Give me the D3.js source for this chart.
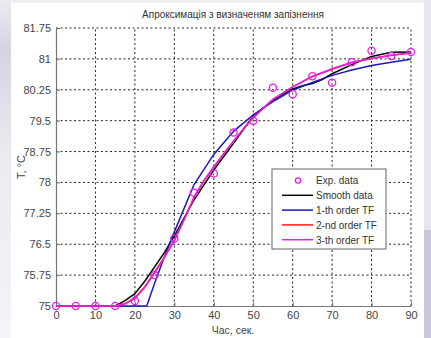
<!DOCTYPE html>
<head>
    <meta charset="utf-8">
    <style>
        body { margin: 0; }
        svg { display: block; font-family: "Liberation Sans", Arial, sans-serif; }
    </style>
</head>
<body>
    <div id="graph"></div>
    <script src="https://d3js.org/d3.v7.min.js"></script>
    <script>
        const WIDTH = 431;
        const HEIGHT = 338;

        // Exp. data (circles)
        const expTime = [0, 5, 10, 15, 20, 25, 30, 35, 40, 45, 50, 55, 60, 65, 70, 75, 80, 85, 90];
        const expTemp = [75, 75, 75, 75, 75.12, 75.75, 76.64, 77.75, 78.22, 79.21, 79.5, 80.3, 80.14, 80.58, 80.42, 80.92, 81.2, 81.07, 81.17];

        // Smooth data
        const smoothTime = [0, 15, 17.5, 20, 22.5, 25, 27.5, 30, 35, 40, 45, 50, 55, 60, 62.5, 65, 67.5, 70, 75, 80, 85, 90];
        const smoothTemp = [75, 75, 75.13, 75.3, 75.6, 75.95, 76.3, 76.7, 77.58, 78.3, 78.95, 79.62, 80.0, 80.27, 80.35, 80.4, 80.5, 80.64, 80.86, 81.06, 81.16, 81.17];

        // 1-th order TF
        const tf1Time = [0, 23, 25, 27.5, 30, 35, 40, 45, 50, 55, 60, 65, 70, 75, 80, 85, 90];
        const tf1Temp = [75, 75, 75.55, 76.2, 76.8, 77.95, 78.68, 79.24, 79.64, 79.96, 80.24, 80.43, 80.6, 80.73, 80.84, 80.92, 80.99];

        // 2-nd order TF
        const tf2Time = [0, 15, 17.5, 20, 22.5, 25, 27.5, 30, 32.5, 35, 37.5, 40, 42.5, 45, 47.5, 50, 55, 60, 65, 70, 75, 80, 85, 90];
        const tf2Temp = [75, 75, 75.06, 75.2, 75.47, 75.82, 76.2, 76.6, 77.1, 77.63, 78.04, 78.37, 78.69, 79.0, 79.3, 79.57, 80.02, 80.32, 80.57, 80.75, 80.91, 81.01, 81.09, 81.14];

        // 3-th order TF
        const tf3Time = [0, 15, 17.5, 20, 22.5, 25, 27.5, 30, 32.5, 35, 37.5, 40, 42.5, 45, 47.5, 50, 55, 60, 65, 70, 75, 80, 85, 90];
        const tf3Temp = [75, 75, 75.05, 75.18, 75.45, 75.8, 76.18, 76.58, 77.1, 77.65, 78.05, 78.38, 78.7, 79.0, 79.3, 79.57, 80.02, 80.32, 80.58, 80.76, 80.92, 81.01, 81.09, 81.15];

        const xTicks = [0, 10, 20, 30, 40, 50, 60, 70, 80, 90];
        const yTicks = [75, 75.75, 76.5, 77.25, 78, 78.75, 79.5, 80.25, 81, 81.75];
        const legendNames = ["Exp. data", "Smooth data", "1-th order TF", "2-nd order TF", "3-th order TF"];

        const X0 = 56, X1 = 411, Y0 = 306, Y1 = 28;

        const xScale = d3.scaleLinear().domain([0, 90]).range([X0, X1]);
        const yScale = d3.scaleLinear().domain([75, 81.75]).range([Y0, Y1]);

        const svg = d3.select("#graph").append("svg")
            .attr("width", WIDTH)
            .attr("height", HEIGHT);

        // fondo de la captura
        const defs = svg.append("defs");
        const grad = defs.append("linearGradient").attr("id", "leftbg")
            .attr("x1", 0).attr("y1", 0).attr("x2", 0).attr("y2", 1);
        grad.append("stop").attr("offset", "0%").attr("stop-color", "#eceaf1");
        grad.append("stop").attr("offset", "15%").attr("stop-color", "#d6d3e0");
        grad.append("stop").attr("offset", "45%").attr("stop-color", "#ebeaf0");
        grad.append("stop").attr("offset", "100%").attr("stop-color", "#f4f3f7");

        svg.append("rect").attr("width", WIDTH).attr("height", HEIGHT).attr("fill", "#f1f0f5");
        svg.append("rect").attr("x", 0).attr("y", 0).attr("width", 11).attr("height", HEIGHT).attr("fill", "url(#leftbg)");
        svg.append("rect").attr("x", 424).attr("y", 0).attr("width", 7).attr("height", 230).attr("fill", "#e7e5ee");
        svg.append("rect").attr("x", 424).attr("y", 230).attr("width", 7).attr("height", 108).attr("fill", "#c9c5da");
        svg.append("rect").attr("x", 11).attr("y", 3).attr("width", 413).attr("height", HEIGHT - 3).attr("fill", "#ffffff");

        // rejilla punteada
        const grid = svg.append("g").attr("stroke", "#222").attr("stroke-width", 1)
            .attr("stroke-dasharray", "2,2.5");
        grid.selectAll(".gx").data(xTicks.slice(1)).enter().append("line")
            .attr("x1", d => xScale(d)).attr("x2", d => xScale(d))
            .attr("y1", Y0).attr("y2", Y1);
        grid.selectAll(".gy").data(yTicks.slice(1)).enter().append("line")
            .attr("x1", X0).attr("x2", X1)
            .attr("y1", d => yScale(d)).attr("y2", d => yScale(d));

        // ejes
        const xAxis = svg.append("g")
            .attr("transform", `translate(0, ${Y0})`)
            .call(d3.axisBottom(xScale).tickValues(xTicks).tickSizeInner(-4).tickSizeOuter(0).tickPadding(5));
        const yAxis = svg.append("g")
            .attr("transform", `translate(${X0}, 0)`)
            .call(d3.axisLeft(yScale).tickValues(yTicks).tickFormat(d => String(d)).tickSizeInner(-4).tickSizeOuter(0).tickPadding(5));
        [xAxis, yAxis].forEach(a => {
            a.select(".domain").attr("stroke", "#777").attr("stroke-width", 1.2);
            a.selectAll(".tick line").attr("stroke", "#777");
            a.selectAll("text").attr("fill", "#444").attr("font-size", 11)
                .attr("font-family", "'Liberation Sans', Arial, sans-serif");
        });

        // curvas
        const line = d3.line().x(d => xScale(d[0])).y(d => yScale(d[1]));
        const series = [
            { t: smoothTime, v: smoothTemp, color: "#000000" },
            { t: tf1Time, v: tf1Temp, color: "#1a1ab8" },
            { t: tf2Time, v: tf2Temp, color: "#ff1a1a" },
            { t: tf3Time, v: tf3Temp, color: "#e81ee8" }
        ];
        series.forEach(s => {
            svg.append("path")
                .datum(d3.zip(s.t, s.v))
                .attr("d", line)
                .attr("fill", "none")
                .attr("stroke", s.color)
                .attr("stroke-width", 1.5);
        });

        svg.selectAll(".exp").data(d3.zip(expTime, expTemp)).enter().append("circle")
            .attr("cx", d => xScale(d[0]))
            .attr("cy", d => yScale(d[1]))
            .attr("r", 3.6)
            .attr("fill", "none")
            .attr("stroke", "#e81ee8")
            .attr("stroke-width", 1.3);

        // título y etiquetas
        svg.append("text").attr("x", 233).attr("y", 18).attr("text-anchor", "middle")
            .attr("font-size", 10).attr("fill", "#333")
            .text("Апроксимація з визначеням запізнення");
        svg.append("text").attr("x", 233).attr("y", 334).attr("text-anchor", "middle")
            .attr("font-size", 10.5).attr("fill", "#444")
            .text("Час, сек.");
        svg.append("text").attr("transform", "translate(25, 167) rotate(-90)")
            .attr("text-anchor", "middle").attr("font-size", 11).attr("fill", "#444")
            .text("T, °C");

        // leyenda
        const legend = svg.append("g");
        legend.append("rect").attr("x", 272).attr("y", 169).attr("width", 114).attr("height", 80)
            .attr("fill", "#fff").attr("stroke", "#666").attr("stroke-width", 1);
        const rowY = d => 180.5 + d * 14.8;
        legendNames.forEach((name, i) => {
            const y = rowY(i);
            if (i === 0) {
                legend.append("circle").attr("cx", 298).attr("cy", y).attr("r", 2.6)
                    .attr("fill", "none").attr("stroke", "#e81ee8").attr("stroke-width", 1.3);
            } else {
                legend.append("line").attr("x1", 282).attr("x2", 313).attr("y1", y).attr("y2", y)
                    .attr("stroke", series[i - 1].color).attr("stroke-width", 1.5);
            }
            legend.append("text").attr("x", 316).attr("y", y + 3.8)
                .attr("font-size", 10).attr("fill", "#333").text(name);
        });
    </script>
</body>
</html>
